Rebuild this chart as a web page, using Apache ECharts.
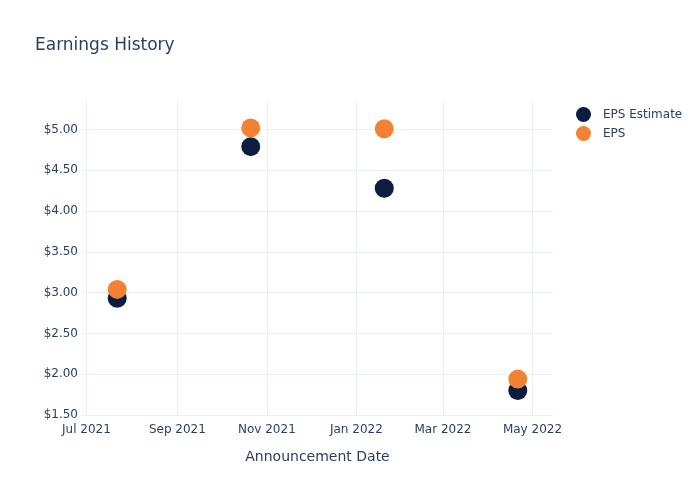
<!DOCTYPE html>
<html>
<head>
<meta charset="utf-8">
<script src="https://cdn.jsdelivr.net/npm/echarts@6/dist/echarts.min.js"></script>
<style>html,body{margin:0;padding:0;background:#fff}#c{width:700px;height:500px}</style>
</head>
<body>
<div id="c"></div>
<script>
const dates = ['2021-07-22', '2021-10-21', '2022-01-20', '2022-04-21'];
const epsEstimate = [2.93, 4.79, 4.28, 1.80];
const eps = [3.04, 5.02, 5.01, 1.94];
const xTickDates = ['2021-07-01', '2021-09-01', '2021-11-01', '2022-01-01', '2022-03-01', '2022-05-01'];
const months = ['Jan','Feb','Mar','Apr','May','Jun','Jul','Aug','Sep','Oct','Nov','Dec'];

const ts = s => Date.parse(s + 'T00:00:00Z');
const textColor = '#2a3f5f';
const gridColor = '#EBF0F8';
const font = '"DejaVu Sans", verdana, arial, sans-serif';

const chart = echarts.init(document.getElementById('c'), null, {renderer: 'canvas'});
chart.setOption({
  animation: false,
  backgroundColor: '#fff',
  textStyle: {fontFamily: font},
  title: {
    text: 'Earnings History',
    left: 30, top: 32,
    textStyle: {fontFamily: font, fontSize: 17, fontWeight: 'normal', color: textColor}
  },
  legend: {
    orient: 'vertical',
    left: 571, top: 102,
    itemWidth: 15, itemHeight: 15, itemGap: 4,
    icon: 'circle',
    textStyle: {fontFamily: font, fontSize: 12, color: textColor, padding: [0, 0, 0, 7]},
    data: ['EPS Estimate', 'EPS']
  },
  grid: {left: 82, right: 147, top: 100, bottom: 85, containLabel: false},
  xAxis: {
    type: 'value',
    min: ts('2021-06-28'),
    max: ts('2022-05-15'),
    name: 'Announcement Date',
    nameLocation: 'middle',
    nameGap: 35,
    nameTextStyle: {fontFamily: font, fontSize: 14, color: textColor},
    axisLine: {show: false},
    axisTick: {show: false, customValues: xTickDates.map(ts)},
    splitLine: {show: true, lineStyle: {color: gridColor, width: 1}},
    axisLabel: {
      customValues: xTickDates.map(ts),
      margin: 9,
      fontFamily: font, fontSize: 12, color: textColor,
      formatter: v => { const d = new Date(v); return months[d.getUTCMonth()] + ' ' + d.getUTCFullYear(); },
      hideOverlap: false
    }
  },
  yAxis: {
    type: 'value',
    min: 1.5, max: 5.362, interval: 0.5,
    axisLine: {show: false},
    axisTick: {show: false},
    splitLine: {show: true, showMaxLine: false, lineStyle: {color: gridColor, width: 1}},
    axisLabel: {
      margin: 4, fontFamily: font, fontSize: 12, color: textColor,
      showMaxLabel: false,
      formatter: v => '$' + v.toFixed(2)
    }
  },
  series: [
    {
      name: 'EPS Estimate', type: 'scatter', symbolSize: 19,
      itemStyle: {color: '#0c1e3f', opacity: 1},
      data: dates.map((d, i) => [ts(d), epsEstimate[i]])
    },
    {
      name: 'EPS', type: 'scatter', symbolSize: 19,
      itemStyle: {color: '#f58134', opacity: 1},
      data: dates.map((d, i) => [ts(d), eps[i]])
    }
  ]
});
</script>
</body>
</html>
